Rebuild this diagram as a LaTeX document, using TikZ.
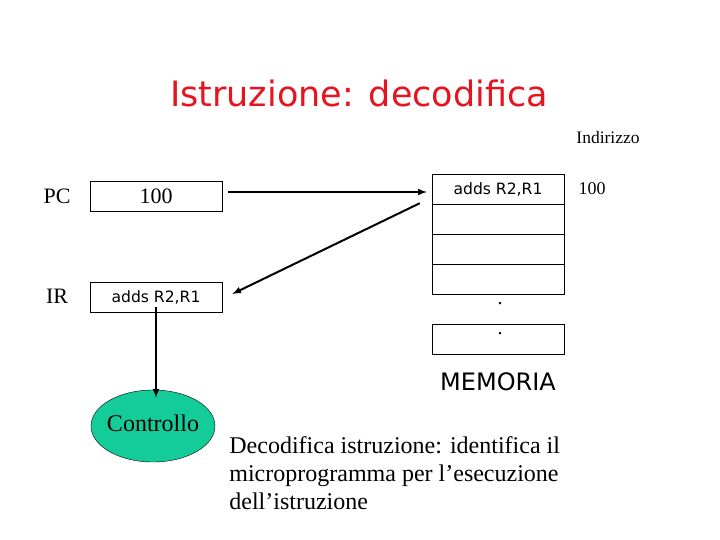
\documentclass[tikz,border=0pt]{standalone}
\usepackage{fontspec}
\setmainfont{Liberation Serif}
\newfontfamily\comic{DejaVu Sans}
\usetikzlibrary{shapes.geometric}

\definecolor{titelrot}{RGB}{230,20,30}
\definecolor{steuergruen}{RGB}{20,204,153}

\tikzset{
	register/.style={draw,thin,minimum width=132bp,minimum height=30bp,inner sep=0pt},
	zelle/.style={draw,thin,minimum width=132bp,minimum height=30bp,inner sep=0pt},
	pfeil/.style={->,line width=2bp},
}

\begin{document}
\begin{tikzpicture}[x=1bp,y=-1bp,>=latex,thick]

\useasboundingbox (0,0) rectangle (720,540);

\def\befehl{{\comic\fontsize{15.6bp}{18bp}\selectfont adds R2,R1}}

% Titel
\node[anchor=base,text=titelrot,font=\comic\fontsize{35bp}{40bp}\selectfont] (titel) at (359,107) {Istruzione: decodifica};

% Register
\node[font=\fontsize{22bp}{26bp}\selectfont] (pclabel) at (57,196) {PC};
\node[font=\fontsize{22bp}{26bp}\selectfont] (irlabel) at (57,296) {IR};
\node[register,font=\fontsize{22bp}{26bp}\selectfont] (pc) at (156,196) {100};
\node[register] (ir) at (156,297) {\befehl};

% Speicher
\node[zelle] (z1) at (498,189) {\befehl};
\node[zelle] (z2) at (498,219) {};
\node[zelle] (z3) at (498,249) {};
\node[zelle] (z4) at (498,279) {};
\node[font=\fontsize{20bp}{24bp}\selectfont] (punkt) at (500,304) {.};
\node[zelle] (z5) at (498,339) {};
\node[font=\fontsize{20bp}{24bp}\selectfont] (punktb) at (500,334) {.};
\node[font=\comic\fontsize{24bp}{28bp}\selectfont] (memoria) at (498,382) {MEMORIA};

\node[font=\fontsize{17.5bp}{20bp}\selectfont] (indirizzo) at (608,138) {Indirizzo};
\node[font=\fontsize{18bp}{22bp}\selectfont] (adresse) at (592,189) {100};

% Steuerwerk
\node[ellipse,draw,thin,fill=steuergruen,minimum width=124bp,minimum height=72bp,inner sep=0pt] (controllo) at (153,426) {};
\node[font=\fontsize{24bp}{28bp}\selectfont] (ctext) at (153,423) {Controllo};

\node[anchor=north west,inner sep=0pt,align=left,font=\fontsize{24bp}{28bp}\selectfont] (erkl) at (229,436)
	{Decodifica istruzione: identifica il\\microprogramma per l’esecuzione\\dell’istruzione};

% Pfeile
\draw[pfeil] ([shift={(6,-4)}]pc.east) -- ([shift={(-5,3)}]z1.west);
\draw[pfeil] ([shift={(-12,-1)}]z1.south west) -- ([shift={(10,-3)}]ir.east);
\draw[pfeil] ([yshift=5]ir.south) -- ([yshift=-8]ir.south |- controllo.north);

\end{tikzpicture}
\end{document}
